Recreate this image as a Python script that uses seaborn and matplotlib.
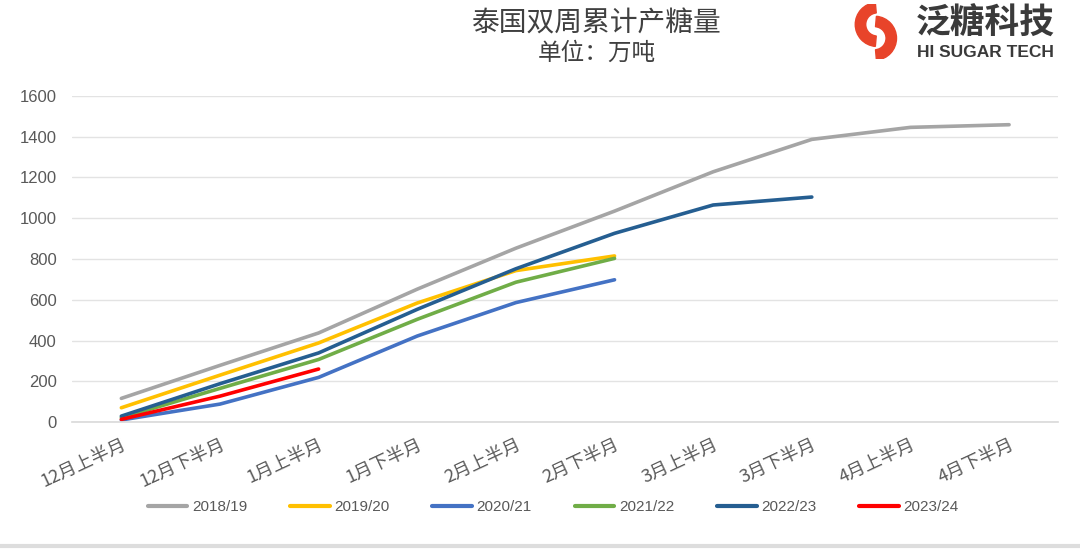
import numpy as np
import pandas as pd
import matplotlib
matplotlib.use("Agg")
import matplotlib.pyplot as plt
import matplotlib.patches as mpatches
import seaborn as sns

categories = ["12月上半月", "12月下半月", "1月上半月", "1月下半月", "2月上半月",
              "2月下半月", "3月上半月", "3月下半月", "4月上半月", "4月下半月"]
seasons = ["2018/19", "2019/20", "2020/21", "2021/22", "2022/23", "2023/24"]
s2018_19 = [116, 278, 437, 652, 853, 1035, 1228, 1387, 1446, 1459]
s2019_20 = [70, 230, 388, 584, 743, 815]
s2020_21 = [10, 88, 219, 422, 586, 698]
s2021_22 = [21, 165, 307, 504, 686, 803]
s2022_23 = [29, 188, 339, 553, 752, 926, 1065, 1104]
s2023_24 = [13, 127, 260]
colors = ["#A5A5A5", "#FFC000", "#4472C4", "#70AD47", "#255E91", "#FF0000"]
yticks = [0, 200, 400, 600, 800, 1000, 1200, 1400, 1600]

series = [s2018_19, s2019_20, s2020_21, s2021_22, s2022_23, s2023_24]
rows = []
for name, vals in zip(seasons, series):
    for c, v in zip(categories, vals):
        rows.append({"period": c, "season": name, "value": v})
df = pd.DataFrame(rows)
df["period"] = pd.Categorical(df["period"], categories=categories, ordered=True)
df["xpos"] = df["period"].cat.codes

sns.set_theme(style="white")
plt.rcParams["font.family"] = ["Noto Sans CJK SC", "DejaVu Sans"]

fig = plt.figure(figsize=(10.8, 5.5), dpi=100)
ax = fig.add_axes([0.0667, 0.2327, 0.9133, 0.5928])

sns.lineplot(data=df, x="xpos", y="value", hue="season", hue_order=seasons,
             palette=colors, linewidth=2.6, sort=False, ax=ax, legend=True)

ax.set_xlim(-0.5, len(categories) - 0.5)
ax.set_ylim(0, 1600)
ax.set_yticks(yticks)
ax.set_yticklabels([str(t) for t in yticks], fontsize=12, color="#595959",
                   family=["Liberation Sans", "DejaVu Sans"])
ax.set_xticks(range(len(categories)))
ax.set_xticklabels(categories, rotation=25, ha="right", rotation_mode="anchor",
                   fontsize=13, color="#595959")
ax.tick_params(axis="x", length=0, pad=10)
ax.tick_params(axis="y", length=0, pad=11)
ax.set_xlabel("")
ax.set_ylabel("")
ax.grid(axis="y", color="#E3E3E3", linewidth=1)
ax.grid(axis="x", visible=False)
for s in ["top", "right", "left"]:
    ax.spines[s].set_visible(False)
ax.spines["bottom"].set_color("#D9D9D9")
ax.spines["bottom"].set_linewidth(1.2)

handles, labels = ax.get_legend_handles_labels()
leg = ax.legend(handles, labels, loc="center", bbox_to_anchor=(0.488, -0.262),
                ncol=6, frameon=False, handlelength=2.6,
                columnspacing=2.8, handletextpad=0.3,
                prop={"family": ["Liberation Sans", "DejaVu Sans"], "size": 11})
for t in leg.get_texts():
    t.set_color("#595959")
for h in leg.get_lines():
    h.set_linewidth(3)

fig.text(0.553, 0.958, "泰国双周累计产糖量", ha="center", va="center",
         fontsize=20, color="#404040")
fig.text(0.553, 0.903, "单位：万吨", ha="center", va="center",
         fontsize=17, color="#404040")

# logo
fig.text(0.848, 0.957, "泛糖科技", ha="left", va="center", fontsize=25,
         color="#3A3A3A", fontweight="bold")
fig.text(0.849, 0.905, "HI SUGAR TECH", ha="left", va="center", fontsize=12.5,
         color="#3A3A3A", family=["Liberation Sans", "DejaVu Sans"], fontweight="bold")
lax = fig.add_axes([0.785, 0.893, 0.052, 0.1])
lax.set_xlim(-1, 1)
lax.set_ylim(-1, 1)
lax.set_aspect("equal")
lax.axis("off")
lax.add_patch(mpatches.Wedge((0.05, 0.25), 0.8, 95, 265, width=0.38, color="#E8442A"))
lax.add_patch(mpatches.Wedge((-0.05, -0.25), 0.8, 275, 85, width=0.38, color="#E8442A"))

fig.add_artist(plt.Line2D([0, 1], [0.008, 0.008], transform=fig.transFigure,
                          color="#DDDDDD", linewidth=3))

fig.savefig("out.png", dpi=100)
